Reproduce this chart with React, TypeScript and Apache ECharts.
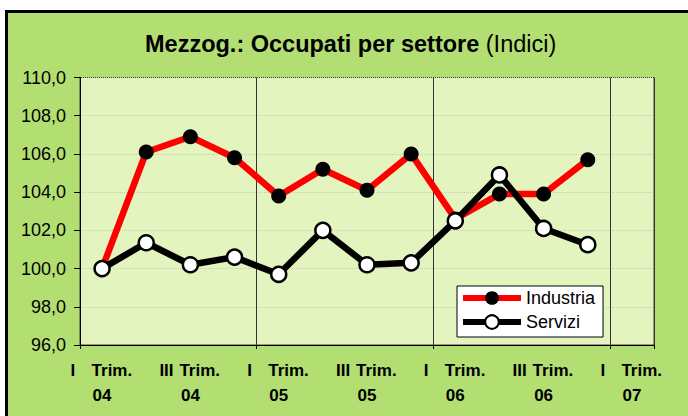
import React, { useEffect, useRef } from "react";
import * as echarts from "echarts";

const categories = [
  "I Trim. 04", "II Trim. 04", "III Trim. 04", "IV Trim. 04",
  "I Trim. 05", "II Trim. 05", "III Trim. 05", "IV Trim. 05",
  "I Trim. 06", "II Trim. 06", "III Trim. 06", "IV Trim. 06",
  "I Trim. 07",
];
const industria = [100.0, 106.1, 106.9, 105.8, 103.8, 105.2, 104.1, 106.0, 102.6, 103.9, 103.9, 105.7, null];
const servizi = [100.0, 101.35, 100.2, 100.6, 99.7, 102.0, 100.2, 100.3, 102.5, 104.9, 102.1, 101.25, null];
const yMin = 96;
const yMax = 110;
const yStep = 2;

const FONT = "'Liberation Sans', Arial, sans-serif";

export default function App() {
  const ref = useRef<HTMLDivElement>(null);
  useEffect(() => {
    if (!ref.current) return;
    const chart = echarts.init(ref.current, undefined, { renderer: "svg" });
    chart.setOption({
      animation: false,
      backgroundColor: "#ffffff",
      graphic: [
        {
          type: "rect",
          z: -10,
          silent: true,
          shape: { x: 6.5, y: 11.5, width: 700, height: 420 },
          style: { fill: "#B3DF72", stroke: "#000", lineWidth: 3 },
        },
      ],
      title: {
        text: "{b|Mezzog.: Occupati per settore }{n|(Indici)}",
        left: 140,
        top: 27,
        textStyle: {
          rich: {
            b: { fontFamily: FONT, fontSize: 23.5, fontWeight: "bold", color: "#000" },
            n: { fontFamily: FONT, fontSize: 23.5, fontWeight: "normal", color: "#000" },
          },
        },
      },
      legend: {
        orient: "vertical",
        left: 457,
        top: 286,
        backgroundColor: "#ffffff",
        borderColor: "#000",
        borderWidth: 1,
        borderRadius: 0,
        padding: [3, 8, 6, 3],
        itemWidth: 58,
        itemHeight: 17,
        itemGap: 6,
        lineStyle: { width: 6 },
        textStyle: { fontFamily: FONT, fontSize: 18, color: "#000" },
        data: ["Industria", "Servizi"],
      },
      grid: {
        left: 80,
        right: 34,
        top: 77.5,
        bottom: 71,
        show: true,
        backgroundColor: "#E4F4BE",
        borderColor: "#404040",
        borderWidth: 1,
      },
      xAxis: {
        type: "category",
        data: categories,
        boundaryGap: true,
        axisLine: { show: true, lineStyle: { color: "#000", width: 1 } },
        axisTick: { show: true, interval: 3, length: 4, lineStyle: { color: "#000" } },
        splitLine: { show: true, interval: 3, lineStyle: { color: "#333", width: 1 } },
        axisLabel: {
          interval: 1,
          margin: 13,
          lineHeight: 25,
          formatter: (v: string) => {
            const parts = v.split(" ");
            const roman = parts[0];
            const year = parts[2];
            const rs = roman === "I" ? "i1" : "i3";
            return `{${rs}|${roman}}{t|${parts[1]}}\n{y|${year}}`;
          },
          rich: {
            i1: { fontFamily: FONT, fontSize: 17, fontWeight: "bold", color: "#000", width: 21, align: "left", lineHeight: 25 },
            i3: { fontFamily: FONT, fontSize: 17, fontWeight: "bold", color: "#000", width: 20, align: "left", lineHeight: 25 },
            t: { fontFamily: FONT, fontSize: 17, fontWeight: "bold", color: "#000", width: 42, align: "left", lineHeight: 25 },
            y: { fontFamily: FONT, fontSize: 17, fontWeight: "bold", color: "#000", lineHeight: 25 },
          },
        },
      },
      yAxis: {
        type: "value",
        min: yMin,
        max: yMax,
        interval: yStep,
        axisLine: { show: true, lineStyle: { color: "#000", width: 1 } },
        axisTick: { show: true, length: 6, lineStyle: { color: "#000" } },
        splitLine: { show: true, lineStyle: { color: "#C8CCB8", type: "dotted", width: 1 } },
        axisLabel: {
          margin: 14,
          fontFamily: FONT,
          fontSize: 18,
          color: "#000",
          formatter: (v: number) => v.toFixed(1).replace(".", ","),
        },
      },
      series: [
        {
          name: "Industria",
          type: "line",
          data: industria,
          symbol: "circle",
          symbolSize: 15,
          lineStyle: { color: "#FF0000", width: 6.5 },
          itemStyle: { color: "#000", borderWidth: 0 },
        },
        {
          name: "Servizi",
          type: "line",
          data: servizi,
          symbol: "circle",
          symbolSize: 15,
          lineStyle: { color: "#000", width: 6.5 },
          itemStyle: { color: "#fff", borderColor: "#000", borderWidth: 2.5 },
        },
      ],
    });
    return () => chart.dispose();
  }, []);
  return (
    <div
      ref={ref}
      style={{ position: "absolute", left: 0, top: 0, width: 688, height: 416 }}
    />
  );
}
